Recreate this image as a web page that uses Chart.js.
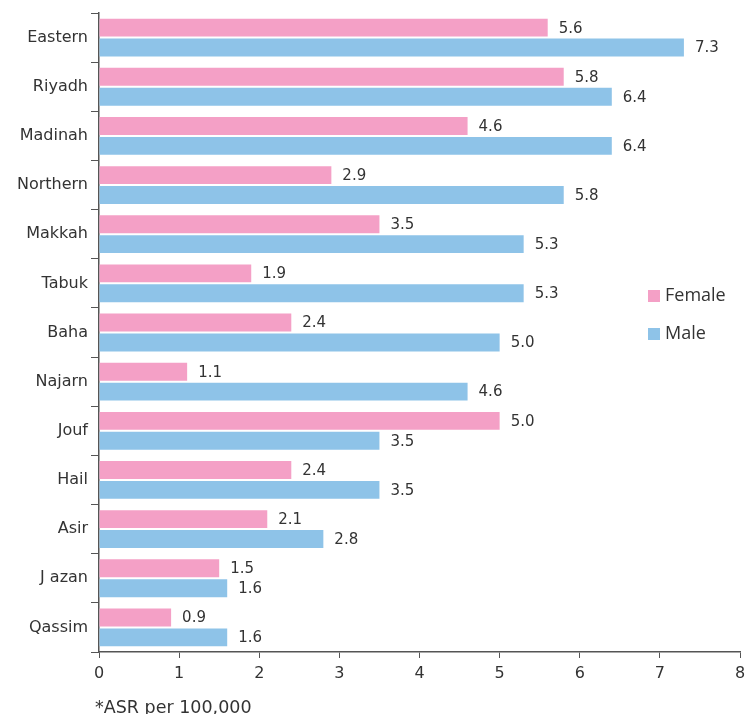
<!DOCTYPE html>
<html>
<head>
<meta charset="utf-8">
<script src="https://cdn.jsdelivr.net/npm/chart.js@4/dist/chart.umd.min.js"></script>
<style>
  html, body { margin: 0; padding: 0; background: #fff; }
  #wrap { width: 748px; height: 714px; position: relative; }
</style>
</head>
<body>
<div id="wrap"><canvas id="c" width="748" height="714"></canvas></div>
<script>
const regions = ["Eastern", "Riyadh", "Madinah", "Northern", "Makkah", "Tabuk", "Baha", "Najarn", "Jouf", "Hail", "Asir", "J azan", "Qassim"];
const femaleASR = [5.6, 5.8, 4.6, 2.9, 3.5, 1.9, 2.4, 1.1, 5.0, 2.4, 2.1, 1.5, 0.9];
const maleASR   = [7.3, 6.4, 6.4, 5.8, 5.3, 5.3, 5.0, 4.6, 3.5, 3.5, 2.8, 1.6, 1.6];
const xTicks = [0, 1, 2, 3, 4, 5, 6, 7, 8];

const PINK = "#F4A0C6";
const BLUE = "#8EC3E8";
const TEXT = "#333333";
const AXIS = "#555555";
const FONT = "'DejaVu Sans', 'Noto Sans', sans-serif";
const LEGEND_FONT = "'Open Sans', 'Noto Sans', sans-serif";

// value labels at the end of each bar
const valueLabels = {
  id: "valueLabels",
  afterDatasetsDraw(chart) {
    const ctx = chart.ctx;
    ctx.save();
    ctx.font = "15px " + FONT;
    ctx.fillStyle = TEXT;
    ctx.textAlign = "left";
    ctx.textBaseline = "middle";
    chart.data.datasets.forEach((ds, di) => {
      chart.getDatasetMeta(di).data.forEach((bar, i) => {
        ctx.fillText(ds.data[i].toFixed(1), bar.x + 11, bar.y + 1);
      });
    });
    ctx.restore();
  }
};

// legend inside the plot and footnote under the axis
const extras = {
  id: "extras",
  afterDraw(chart) {
    const ctx = chart.ctx;
    ctx.save();
    const items = [[PINK, "Female", 296], [BLUE, "Male", 334]];
    ctx.font = "18px " + LEGEND_FONT;
    ctx.textBaseline = "middle";
    ctx.textAlign = "left";
    items.forEach(([col, txt, y]) => {
      ctx.fillStyle = col;
      ctx.fillRect(648, y - 6, 12, 12);
      ctx.fillStyle = TEXT;
      ctx.fillText(txt, 665, y);
    });
    ctx.font = "17.5px " + FONT;
    ctx.textBaseline = "alphabetic";
    ctx.fillStyle = TEXT;
    ctx.fillText("*ASR per 100,000", 95, 713);
    ctx.restore();
  }
};

new Chart(document.getElementById("c"), {
  type: "bar",
  data: {
    labels: regions,
    datasets: [
      { label: "Female", data: femaleASR, backgroundColor: PINK },
      { label: "Male", data: maleASR, backgroundColor: BLUE }
    ]
  },
  options: {
    indexAxis: "y",
    responsive: false,
    animation: false,
    devicePixelRatio: 1,
    layout: { padding: { top: 13, right: 8, left: 0, bottom: 0 } },
    datasets: { bar: { categoryPercentage: 0.81, barPercentage: 0.9 } },
    plugins: { legend: { display: false }, tooltip: { enabled: false } },
    scales: {
      x: {
        min: 0, max: 8,
        afterFit(s) { s.height = 62; s.paddingLeft = 0; s.paddingRight = 0; },
        afterBuildTicks(s) { s.ticks = xTicks.map(v => ({ value: v })); },
        grid: { drawOnChartArea: false, drawTicks: true, tickLength: 6, color: AXIS },
        border: { color: AXIS, width: 1.5 },
        ticks: { color: TEXT, font: { size: 16, family: FONT }, padding: 6 }
      },
      y: {
        afterFit(s) { s.width = 99; s.paddingTop = 0; s.paddingBottom = 0; },
        grid: { drawOnChartArea: false, drawTicks: true, tickLength: 8, color: AXIS, offset: true },
        border: { color: AXIS, width: 1.5 },
        ticks: { color: TEXT, font: { size: 16, family: FONT }, padding: 3 }
      }
    }
  },
  plugins: [valueLabels, extras]
});
</script>
</body>
</html>
